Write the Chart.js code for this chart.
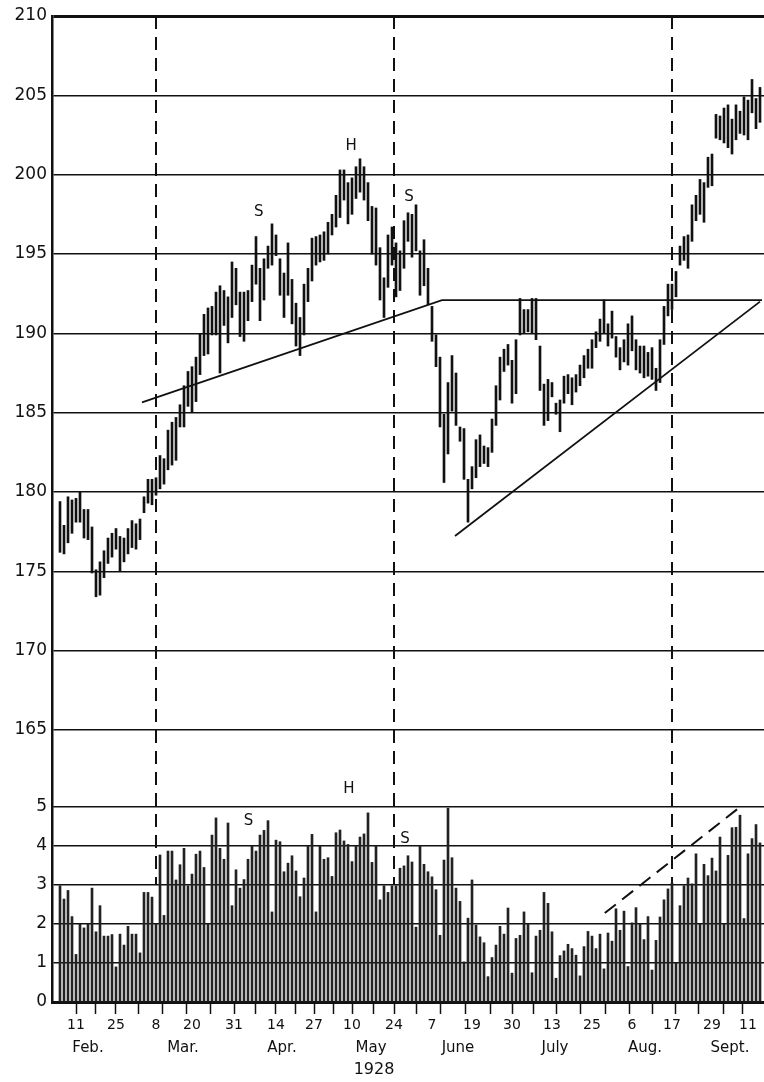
<!DOCTYPE html>
<html><head><meta charset="utf-8">
<script src="https://cdn.jsdelivr.net/npm/chart.js@4/dist/chart.umd.min.js"></script>
<style>html,body{margin:0;padding:0;background:#fff;}canvas{display:block;}</style>
</head><body>
<canvas id="c" width="764" height="1082"></canvas>
<script>
// ---- data (trading-day index 0..175, Feb–Sept 1928) ----
const priceLow = [
176.2,176.1,176.8,177.4,178.1,178.1,177.1,177.0,174.9,173.4,
173.5,174.6,175.5,175.9,176.4,175.0,175.6,176.1,176.5,176.4,
177.0,178.7,179.3,179.2,179.8,180.2,180.5,181.4,181.7,182.0,
184.1,184.1,185.4,185.0,185.7,187.4,188.6,188.7,189.9,189.9,
187.5,190.5,189.4,191.0,191.8,189.8,189.5,190.8,192.0,193.1,
190.8,192.1,194.1,194.3,194.9,192.4,191.0,192.4,190.6,189.2,
188.6,189.9,192.0,193.3,194.3,194.5,194.6,195.0,196.2,196.7,
197.3,198.4,196.9,197.5,198.5,198.9,198.4,197.1,195.0,194.3,
192.1,191.0,192.9,194.3,192.3,192.7,194.1,195.8,194.8,195.2,
192.4,193.0,191.8,189.5,187.9,184.1,180.6,182.4,185.1,184.2,
183.2,180.8,178.1,180.2,180.9,181.6,181.8,181.6,182.5,184.2,
185.8,187.6,188.0,185.6,186.2,189.9,190.0,190.1,190.0,189.6,
186.4,184.2,184.5,186.0,184.9,183.8,185.6,186.2,185.5,186.3,
186.7,187.2,187.8,187.8,189.1,189.5,190.0,189.2,189.7,188.5,
187.7,188.2,188.0,188.9,187.7,187.5,187.2,187.3,187.1,186.4,
186.9,189.3,191.1,191.5,192.3,194.3,194.6,194.1,195.8,197.1,
197.5,197.0,199.2,199.3,202.3,202.2,202.0,201.7,201.3,202.2,
202.6,202.5,202.2,203.9,202.9,203.3];
const priceHigh = [
179.4,177.9,179.7,179.5,179.6,180.0,178.9,178.9,177.8,175.1,
175.6,176.3,177.1,177.4,177.7,177.2,177.1,177.7,178.2,178.0,
178.3,179.7,180.8,180.8,180.9,182.3,182.1,183.9,184.4,184.7,
185.5,186.7,187.6,187.9,188.5,190.0,191.2,191.6,191.7,192.6,
193.0,192.7,192.3,194.5,194.1,192.6,192.6,192.7,194.3,196.1,
194.1,194.7,195.5,196.9,196.2,194.7,193.8,195.7,193.4,191.9,
191.0,193.1,194.1,196.0,196.1,196.2,196.4,197.0,197.5,198.7,
200.3,200.3,199.5,199.8,200.5,201.0,200.5,199.5,198.0,197.9,
195.4,193.5,196.2,196.7,195.7,195.2,197.1,197.6,197.5,198.1,
195.2,195.9,194.1,191.7,189.9,188.5,184.9,186.9,188.6,187.5,
184.1,184.0,180.8,181.6,183.3,183.6,182.9,182.8,184.6,186.7,
188.5,189.0,189.3,188.3,189.6,192.2,191.5,191.5,192.2,192.2,
189.2,186.8,187.1,186.9,185.6,185.8,187.3,187.4,187.2,187.4,
188.0,188.6,189.0,189.6,190.1,190.9,192.1,190.6,191.4,189.8,
189.1,189.6,190.6,191.1,189.6,189.2,189.2,188.8,189.1,187.8,
189.6,191.7,193.1,193.1,193.9,195.5,196.1,196.2,198.1,198.7,
199.7,199.5,201.1,201.3,203.8,203.7,204.2,204.4,203.5,204.4,
204.0,204.9,204.7,206.0,204.8,205.5];
const volume = [
2.98,2.64,2.86,2.19,1.22,2.0,1.9,2.0,2.92,1.8,
2.47,1.69,1.69,1.73,0.9,1.74,1.46,1.94,1.74,1.74,
1.26,2.81,2.81,2.69,2.0,3.77,2.22,3.87,3.87,3.13,
3.52,3.94,2.98,3.28,3.79,3.87,3.45,2.0,4.28,4.72,
3.94,3.66,4.59,2.47,3.39,2.92,3.14,3.66,4.0,3.87,
4.28,4.4,4.65,2.31,4.15,4.11,3.34,3.56,3.75,3.36,
2.7,3.18,4.0,4.3,2.31,4.0,3.66,3.7,3.22,4.34,
4.41,4.13,4.04,3.6,4.0,4.23,4.31,4.85,3.58,4.0,
2.62,2.98,2.81,2.98,2.98,3.43,3.49,3.75,
3.59,1.92,4.0,3.53,3.34,3.21,2.88,1.71,3.64,4.97,
3.7,2.92,2.58,1.03,2.15,3.13,1.97,1.67,1.52,0.65,
1.14,1.46,1.94,1.74,2.41,0.74,1.63,1.71,2.31,2.0,
0.75,1.69,1.84,2.81,2.53,1.8,0.61,1.19,1.31,1.48,
1.37,1.2,0.67,1.42,1.81,1.69,1.37,1.74,0.85,1.77,
1.56,2.39,1.84,2.33,0.91,2.03,2.42,2.0,1.6,2.19,
0.82,1.58,2.18,2.62,2.9,3.05,1.0,2.47,2.98,3.18,
3.03,3.8,2.0,3.53,3.24,3.69,3.36,4.23,2.0,3.76,
4.47,4.48,4.79,2.14,3.8,4.19,4.55,4.08];

const weekTickPositions = [4,8.9,13.9,19.6,25.6,31.7,37.7,43.6,48.75,53.9,58.75,63.6,68.25,73.2,78.25,83.7,
  89,95,101.25,107.7,113.2,118.3,124,130,136.3,142.3,148.2,153.8,159.5,165.8,170.7];
const dayTickPositions = [4,14,24,33,43.5,54,63.5,73,83.5,93,103,113,123,133,143,153,163,172];
const dayTickLabels    = ['11','25','8','20','31','14','27','10','24','7','19','30','13','25','6','17','29','11'];
const monthPositions   = [7,30.75,55.5,77.75,99.5,123.75,146.25,167.5];
const monthLabels      = ['Feb.','Mar.','Apr.','May','June','July','Aug.','Sept.'];
const yearPositions    = [78.5];
const yearLabels       = ['1928'];
const priceTicks  = [165,170,175,180,185,190,195,200,205,210];
const volumeTicks = [0,1,2,3,4,5];

const dashedDays = [24,83.5,153];          // vertical dashed markers (Mar 8, May 24, Aug 17)
const dashedVolumeEnd = 3;                 // they stop at the 3 line of the volume panel
const necklinePoints = [{x:20.5,y:185.65},{x:95.5,y:192.1},{x:175.5,y:192.1}];
const trianglePoints = [{x:98.75,y:177.23},{x:175,y:192.0}];
const volumeTrendPoints = [{x:136.2,y:2.28},{x:173,y:5.24}];
const priceNotes  = [{t:'S',x:49.7,y:197.62},{t:'H',x:72.8,y:201.81},{t:'S',x:87.25,y:198.61}];
const volumeNotes = [{t:'S',x:47.1,y:4.65},{t:'H',x:72.2,y:5.46},{t:'S',x:86.25,y:4.17}];

// ---- chart ----
Chart.defaults.font.family = '"DejaVu Sans", sans-serif';
const INK = '#111';
const setTicks = vals => s => { s.ticks = vals.map(v => ({value: v})); };
const labelFrom = (pos, labels) => v => { const k = pos.indexOf(v); return k >= 0 ? labels[k] : ''; };

const markPlugin = {
  id: 'marks',
  beforeDatasetsDraw(chart) {
    const {ctx, chartArea, scales} = chart;
    ctx.save();
    ctx.strokeStyle = INK; ctx.lineWidth = 2; ctx.setLineDash([13, 8]);
    const yEnd = scales.vol.getPixelForValue(dashedVolumeEnd);
    dashedDays.forEach(d => {
      const x = scales.x.getPixelForValue(d);
      ctx.beginPath(); ctx.moveTo(x, chartArea.top); ctx.lineTo(x, yEnd); ctx.stroke();
    });
    ctx.restore();
  },
  afterDatasetsDraw(chart) {
    const {ctx, scales} = chart;
    ctx.save();
    ctx.fillStyle = INK; ctx.font = '15px "DejaVu Sans"';
    ctx.textAlign = 'center'; ctx.textBaseline = 'middle';
    priceNotes.forEach(n => ctx.fillText(n.t, scales.x.getPixelForValue(n.x), scales.price.getPixelForValue(n.y)));
    volumeNotes.forEach(n => ctx.fillText(n.t, scales.x.getPixelForValue(n.x), scales.vol.getPixelForValue(n.y)));
    ctx.restore();
  }
};

const xRange = {min: -2, max: 176};
const yGrid = {color: INK, lineWidth: c => (c.tick && c.tick.value === 210 ? 3 : 1.6), drawTicks: false};
const labelAxis = (positions, labels, size, padding, height) => ({
  type: 'linear', axis: 'x', position: 'bottom', ...xRange, offset: false,
  afterBuildTicks: setTicks(positions), afterFit: s => { s.height = height; },
  ticks: {autoSkip: false, maxRotation: 0, minRotation: 0, padding, color: INK,
          font: {size}, callback: labelFrom(positions, labels)},
  grid: {display: false, drawTicks: false, offset: false}, border: {display: false}
});

new Chart(document.getElementById('c'), {
  type: 'bar',
  data: {
    datasets: [
      {type: 'bar', data: priceHigh.map((h, i) => ({x: i, y: [priceLow[i], h]})), xAxisID: 'x', yAxisID: 'price',
       backgroundColor: INK, barThickness: 2, grouped: false, order: 2},
      {type: 'bar', data: volume.map((v, i) => ({x: i, y: v})), xAxisID: 'x', yAxisID: 'vol',
       backgroundColor: '#222', barThickness: 2, grouped: false, order: 2},
      {type: 'line', data: necklinePoints, xAxisID: 'x', yAxisID: 'price', borderColor: INK, borderWidth: 1.8,
       pointRadius: 0, tension: 0, order: 1},
      {type: 'line', data: trianglePoints, xAxisID: 'x', yAxisID: 'price', borderColor: INK, borderWidth: 1.8,
       pointRadius: 0, tension: 0, order: 1},
      {type: 'line', data: volumeTrendPoints, xAxisID: 'x', yAxisID: 'vol', borderColor: INK, borderWidth: 2,
       borderDash: [14, 8], pointRadius: 0, tension: 0, order: 1}
    ]
  },
  options: {
    responsive: false, animation: false, devicePixelRatio: 1,
    layout: {padding: {top: 16, right: 0, bottom: 0, left: 0}},
    plugins: {legend: {display: false}, tooltip: {enabled: false}},
    scales: {
      x: {type: 'linear', position: 'bottom', ...xRange, offset: false,
          afterBuildTicks: setTicks(weekTickPositions), afterFit: s => { s.height = 12; },
          ticks: {autoSkip: false, maxRotation: 0, minRotation: 0, padding: 0, callback: () => ''},
          grid: {offset: false, drawOnChartArea: false, drawTicks: true, tickLength: 12, tickColor: INK, tickWidth: 1.5},
          border: {display: true, color: INK, width: 3}},
      days: labelAxis(dayTickPositions, dayTickLabels, 14, 3, 22),
      month: labelAxis(monthPositions, monthLabels, 15, 3, 24),
      year: labelAxis(yearPositions, yearLabels, 16, 0, 22),
      vol: {type: 'linear', position: 'left', stack: 'panels', stackWeight: 195, min: 0, max: 5,
          afterBuildTicks: setTicks(volumeTicks), afterFit: s => { s.width = 52; },
          ticks: {autoSkip: false, padding: 5, color: INK, font: {size: 17}},
          grid: yGrid, border: {color: INK, width: 2.5}},
      price: {type: 'linear', position: 'left', stack: 'panels', stackWeight: 791, min: 160.15, max: 210,
          afterBuildTicks: setTicks(priceTicks), afterFit: s => { s.width = 52; },
          ticks: {autoSkip: false, padding: 5, color: INK, font: {size: 17}},
          grid: yGrid, border: {color: INK, width: 2.5}}
    }
  },
  plugins: [markPlugin]
});
</script>
</body></html>
